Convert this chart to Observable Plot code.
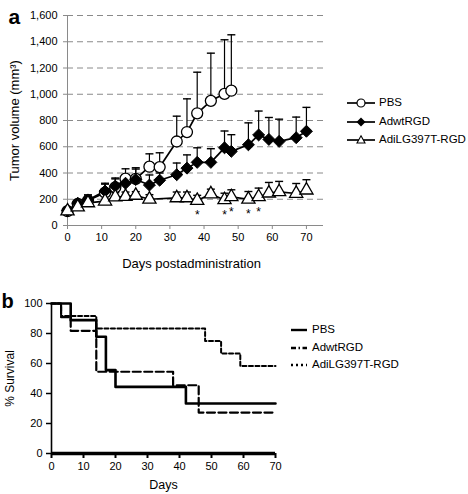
<!DOCTYPE html>
<html><head><meta charset="utf-8">
<script src="https://cdn.jsdelivr.net/npm/d3@7"></script>
<script src="https://cdn.jsdelivr.net/npm/@observablehq/plot@0.6"></script>
<style>
body{margin:0;background:#fff;}
#root{position:relative;width:468px;height:494px;font-family:"Liberation Sans",Arial,Helvetica,sans-serif;background:#fff;}
#root > svg{position:absolute;left:0;}
.leg{position:absolute;display:flex;align-items:center;font-size:11.5px;white-space:nowrap;color:#000;line-height:1;}
.leg svg{display:block;margin-right:4px;}
</style></head><body><div id="root"></div>
<script>
// ---------- Panel a: tumor volume ----------
const seriesNames = ["PBS", "AdwtRGD", "AdiLG397T-RGD"];
const volTicks = [0, 200, 400, 600, 800, 1000, 1200, 1400, 1600];
const dayTicks = [0, 10, 20, 30, 40, 50, 60, 70];

const pbsDays = [0, 3, 6, 11, 14, 17, 20, 24, 27, 32, 35, 38, 42, 46, 48];
const pbsVol  = [110, 165, 190, 250, 290, 357, 355, 448, 445, 640, 712, 855, 950, 1003, 1027];
const pbsErr  = [125, 190, 225, 315, 355, 432, 430, 546, 554, 833, 965, 1168, 1313, 1415, 1453];

const wtDays = [0, 3, 6, 11, 14, 17, 20, 24, 27, 32, 35, 38, 42, 46, 48, 53, 56, 59, 62, 67, 70];
const wtVol  = [115, 170, 195, 262, 300, 322, 350, 308, 345, 387, 437, 481, 481, 592, 565, 615, 690, 656, 641, 669, 718];
const wtErr  = [130, 195, 234, 322, 362, 370, 440, 385, 400, 476, 538, 592, 585, 720, 692, 782, 872, 823, 810, 826, 900];

const lgDays = [0, 3, 6, 11, 14, 17, 20, 24, 32, 35, 38, 42, 46, 48, 53, 56, 59, 62, 67, 70];
const lgVol  = [110, 140, 172, 185, 216, 221, 229, 200, 210, 210, 190, 240, 195, 218, 200, 218, 246, 256, 244, 269];
const lgErr  = [125, 165, 205, 225, 250, 255, 258, 235, 255, 255, 230, 277, 246, 272, 259, 285, 328, 336, 320, 349];

const sigDays = [38, 46, 48, 53, 56];

// ---------- Panel b: survival ----------
const survTicks = [0, 20, 40, 60, 80, 100];
const pbsSurvDays = [0, 6, 14, 17, 20, 42, 70];
const pbsSurv     = [100, 88.9, 77.8, 55.6, 44.4, 33.3, 33.3];
const wtSurvDays  = [0, 3, 6, 14, 38, 46, 70];
const wtSurv      = [100, 90.9, 81.8, 54.5, 45.5, 27.3, 27.3];
const lgSurvDays  = [0, 3, 14, 48, 53, 59, 70];
const lgSurv      = [100, 91.7, 83.3, 75, 66.7, 58.3, 58.3];

const FONT = '"Liberation Sans", Arial, Helvetica, sans-serif';
const tbl = (days, v, e) => days.map((d, i) => ({day: d, v: v[i], err: e ? e[i] : null}));
const pbs = tbl(pbsDays, pbsVol, pbsErr);
const wt = tbl(wtDays, wtVol, wtErr);
const lg = tbl(lgDays, lgVol, lgErr);
const sig = sigDays.map(d => ({day: d, v: lg.find(r => r.day === d).v}));
const cap = {draw(ctx, size) { const w = Math.sqrt(size / Math.PI); ctx.moveTo(-w, 0); ctx.lineTo(w, 0); }};
const grey = "#8a8a8a";

const errMarks = (data) => [
  Plot.ruleX(data, {x: "day", y1: "v", y2: "err", stroke: "#000", strokeWidth: 1.2}),
  Plot.dot(data, {x: "day", y: "err", symbol: cap, r: 4, stroke: "#000", fill: "none", strokeWidth: 1.4})
];

const chartA = Plot.plot({
  width: 468, height: 272,
  marginLeft: 67, marginRight: 145, marginTop: 15, marginBottom: 47,
  x: {domain: [0, 75]},
  y: {domain: [0, 1600]},
  style: {fontFamily: FONT, fontSize: "11px", background: "transparent", overflow: "visible", color: "#000"},
  marks: [
    Plot.ruleY(volTicks.filter(v => v > 0), {stroke: grey, strokeDasharray: "6,4", strokeWidth: 1}),
    Plot.ruleY([0], {stroke: grey}),
    Plot.ruleX([0], {stroke: grey}),
    Plot.axisY({ticks: volTicks, tickFormat: d3.format(","), tickSize: 4, tickPadding: 6, stroke: grey, fill: "#000", label: null}),
    Plot.axisX({ticks: dayTicks, tickSize: 4, tickPadding: 4, stroke: grey, fill: "#000", label: null}),
    ...errMarks(pbs), ...errMarks(wt), ...errMarks(lg),
    Plot.line(pbs, {x: "day", y: "v", stroke: "#000", strokeWidth: 1.7}),
    Plot.line(wt, {x: "day", y: "v", stroke: "#000", strokeWidth: 1.7}),
    Plot.line(lg, {x: "day", y: "v", stroke: "#000", strokeWidth: 1.7}),
    Plot.dot(pbs, {x: "day", y: "v", symbol: "circle", r: 5.5, fill: "#fff", stroke: "#000", strokeWidth: 1.3}),
    Plot.dot(wt, {x: "day", y: "v", symbol: "diamond2", r: 5.4, fill: "#000", stroke: "#000", strokeWidth: 1}),
    Plot.dot(lg, {x: "day", y: "v", symbol: "triangle", r: 4.9, fill: "#fff", stroke: "#000", strokeWidth: 1.3}),
    Plot.text(sig, {x: "day", y: "v", text: () => "*", dy: 15, fontSize: 12, fill: "#000"}),
    Plot.text(["Tumor volume (mm³)"], {frameAnchor: "left", rotate: -90, dx: -53, textAnchor: "middle", lineAnchor: "middle", fontSize: 13, fill: "#000"}),
    Plot.text(["Days postadministration"], {frameAnchor: "bottom", dx: -4, dy: 38, textAnchor: "middle", lineAnchor: "middle", fontSize: 13, fill: "#000"}),
    Plot.text(["a"], {frameAnchor: "top-left", dx: -59, dy: 8, textAnchor: "start", lineAnchor: "bottom", fontSize: 21, fontWeight: "bold", fill: "#000"})
  ]
});
chartA.style.top = "0px";

const stepTbl = (d, s) => d.map((x, i) => ({day: x, s: s[i]}));
const chartB = Plot.plot({
  width: 468, height: 214,
  marginLeft: 51, marginRight: 193, marginTop: 23, marginBottom: 41,
  x: {domain: [0, 70]},
  y: {domain: [0, 100]},
  style: {fontFamily: FONT, fontSize: "11px", background: "transparent", overflow: "visible", color: "#000"},
  marks: [
    Plot.axisY({ticks: survTicks, tickSize: 5, tickPadding: 4, stroke: "#000", strokeWidth: 1.5, fill: "#000", label: null}),
    Plot.axisX({ticks: dayTicks, tickSize: 5, tickPadding: 4, stroke: "#000", strokeWidth: 2, fill: "#000", label: null}),
    Plot.ruleX([0], {y1: 0, y2: 100, stroke: "#000", strokeWidth: 1.6}),
    Plot.line(stepTbl(lgSurvDays, lgSurv), {x: "day", y: "s", curve: "step-after", stroke: "#000", strokeWidth: 2, strokeDasharray: "4,2.5"}),
    Plot.line(stepTbl(wtSurvDays, wtSurv), {x: "day", y: "s", curve: "step-after", stroke: "#000", strokeWidth: 2.2, strokeDasharray: "8,3.5"}),
    Plot.line(stepTbl(pbsSurvDays, pbsSurv), {x: "day", y: "s", curve: "step-after", stroke: "#000", strokeWidth: 2.6}),
    Plot.ruleY([0], {x1: 0, x2: 70, stroke: "#000", strokeWidth: 3.5}),
    Plot.text(["% Survival"], {frameAnchor: "left", rotate: -90, dx: -41, textAnchor: "middle", lineAnchor: "middle", fontSize: 12, fill: "#000"}),
    Plot.text(["Days"], {frameAnchor: "bottom", dy: 31, textAnchor: "middle", lineAnchor: "middle", fontSize: 12.5, fill: "#000"}),
    Plot.text(["b"], {frameAnchor: "top-left", dx: -50, dy: 4, textAnchor: "start", lineAnchor: "bottom", fontSize: 20, fontWeight: "bold", fill: "#000"})
  ]
});
chartB.style.top = "280px";

const root = document.getElementById("root");
root.appendChild(chartA);
root.appendChild(chartB);

// Legends (HTML)
const markerSvg = {
  "PBS": '<circle cx="14" cy="7" r="4" fill="#fff" stroke="#000" stroke-width="1.2"/>',
  "AdwtRGD": '<path d="M14 2.5 L18.5 7 L14 11.5 L9.5 7Z" fill="#000"/>',
  "AdiLG397T-RGD": '<path d="M14 2.8 L18 10 L10 10Z" fill="#fff" stroke="#000" stroke-width="1.1"/>'
};
const topY = [103, 122, 140];
seriesNames.forEach((name, i) => {
  const d = document.createElement("div");
  d.className = "leg";
  d.style.left = "347px"; d.style.top = (topY[i] - 7) + "px";
  d.innerHTML = '<svg width="28" height="14"><line x1="0" x2="28" y1="7" y2="7" stroke="#000" stroke-width="1.7"/>' + markerSvg[name] + '</svg><span>' + name + '</span>';
  root.appendChild(d);
});
const dashes = {"PBS": "none", "AdwtRGD": "5,2.5,1.5,2.5", "AdiLG397T-RGD": "2,3"};
const botY = [330, 347.5, 365];
seriesNames.forEach((name, i) => {
  const d = document.createElement("div");
  d.className = "leg";
  d.style.left = "291px"; d.style.top = (botY[i] - 7) + "px";
  d.innerHTML = '<svg width="16" height="14" style="margin-right:5px"><line x1="0" x2="16" y1="7" y2="7" stroke="#000" stroke-width="2.4" stroke-dasharray="' + dashes[name] + '"/></svg><span>' + name + '</span>';
  root.appendChild(d);
});
</script></body></html>
